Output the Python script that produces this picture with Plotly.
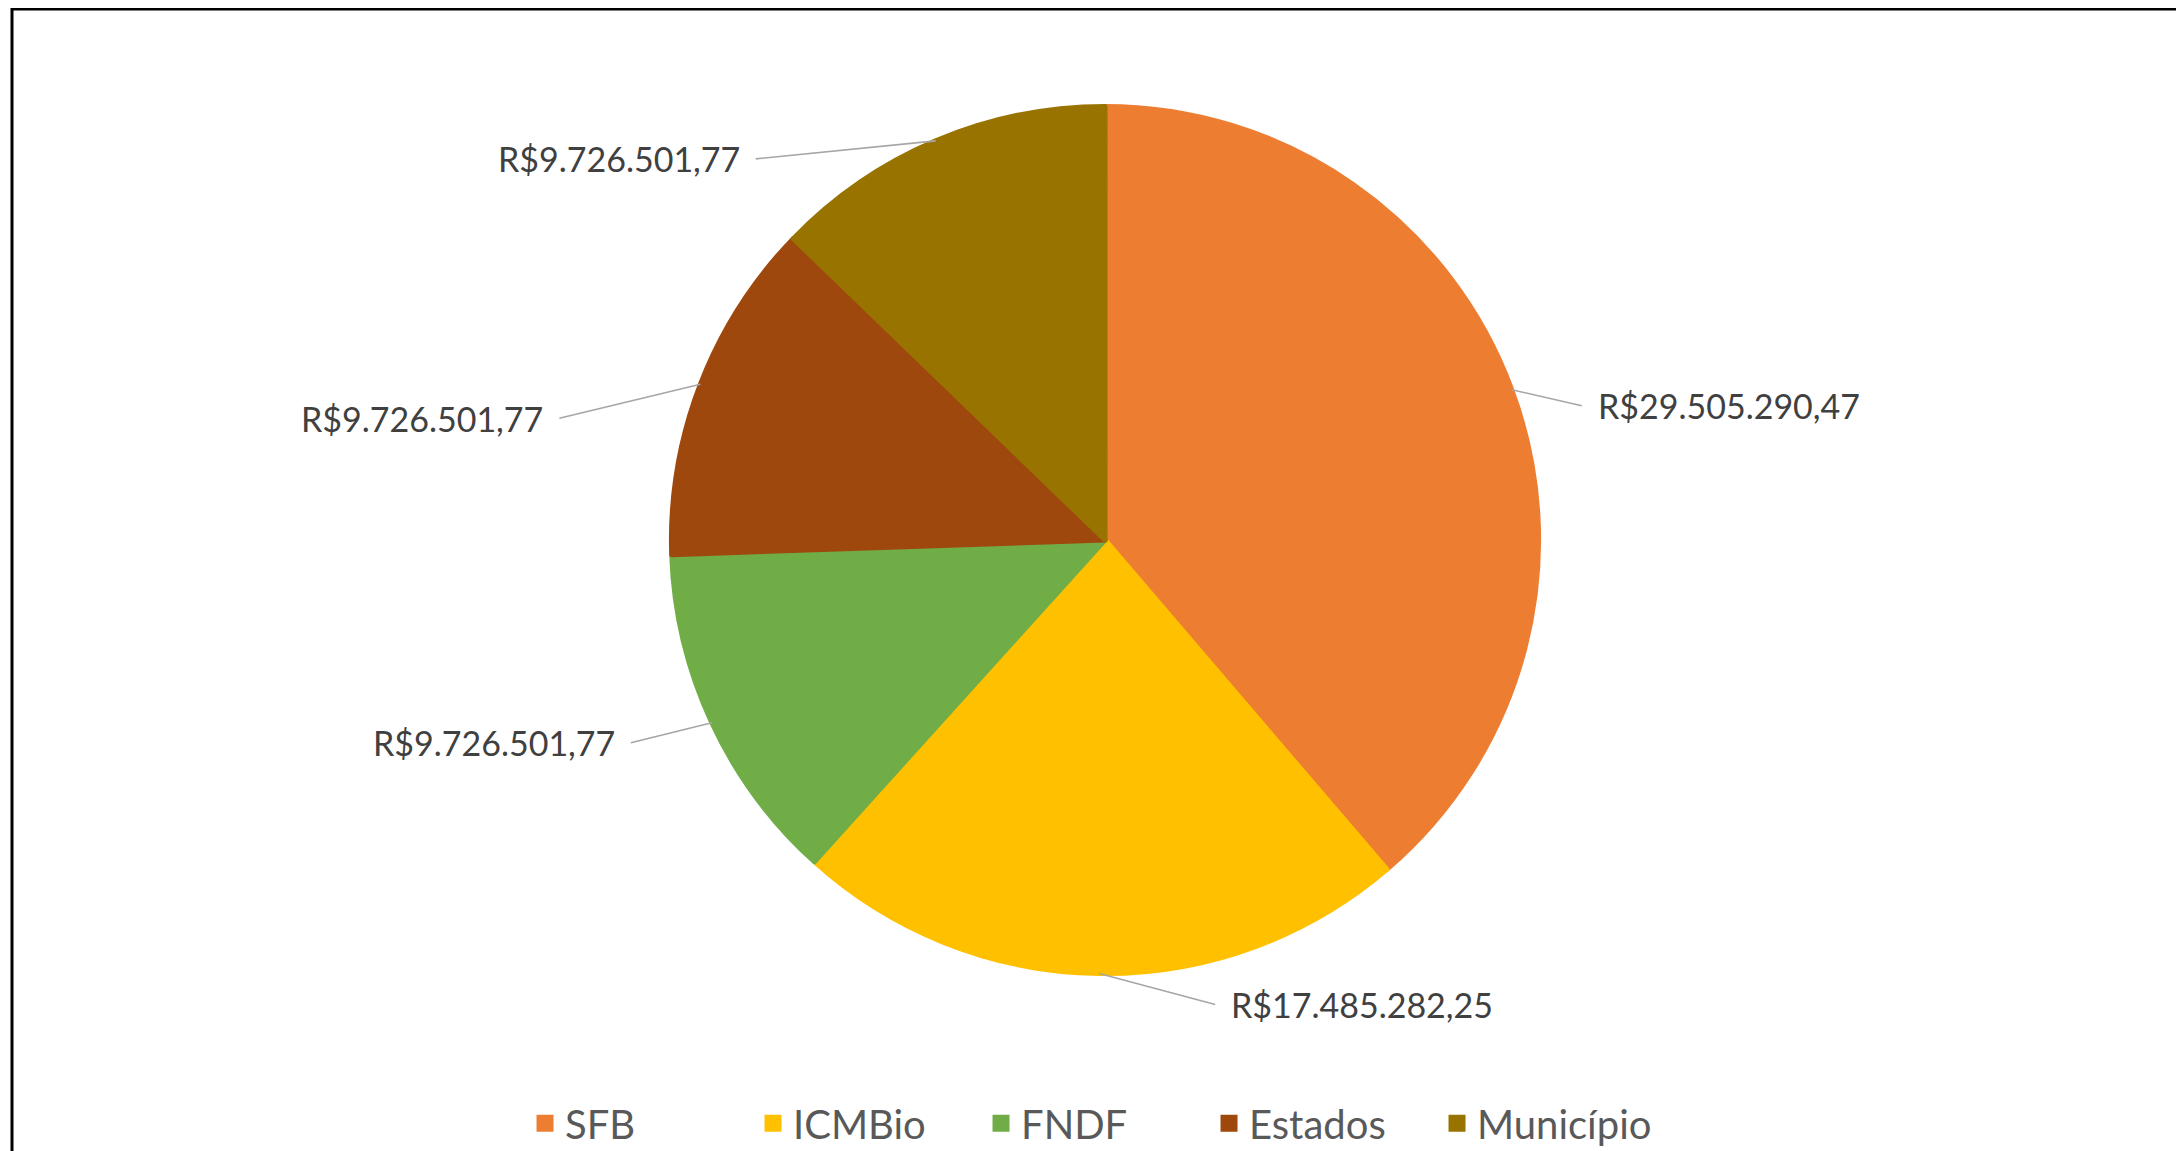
import math
import plotly.graph_objects as go

# data
categories = ["SFB", "ICMBio", "FNDF", "Estados", "Município"]
values = [29505290.47, 17485282.25, 9726501.77, 9726501.77, 9726501.77]
colors = ["#ED7D31", "#FFC000", "#70AD47", "#9E480E", "#997300"]

W, H = 2184, 1151
DOM_X = [0.2023, 0.8023]
DOM_Y = [0.1611, 0.9145]
FONT = "Lato"

# pixel offsets of each label from its slice edge (label placement, style only)
label_offsets = [(70, 16), (116, 31), (-81, 20), (-141, 34), (-180, 18)]


def brl(v):
    s = f"{v:,.2f}"  # 29,505,290.47
    s = s.replace(",", "X").replace(".", ",").replace("X", ".")
    return "R$" + s


fig = go.Figure()
fig.add_trace(go.Pie(
    labels=categories,
    values=values,
    # same-colour outline: invisible on the pie, enlarges the legend swatches
    marker=dict(colors=colors, line=dict(width=5, color=colors)),
    sort=False,
    direction="clockwise",
    rotation=0,
    textinfo="none",
    hoverinfo="label+value",
    domain=dict(x=DOM_X, y=DOM_Y),
))

# leader lines + value labels, anchored on the slice mid-angles
total = sum(values)
cx = (DOM_X[0] + DOM_X[1]) / 2
cy = (DOM_Y[0] + DOM_Y[1]) / 2
r_px = min((DOM_X[1] - DOM_X[0]) * W, (DOM_Y[1] - DOM_Y[0]) * H) / 2
start = 0.0
for v, (ox, oy) in zip(values, label_offsets):
    frac = v / total
    mid = (start + frac / 2) * 2 * math.pi
    start += frac
    hx = cx + r_px * math.sin(mid) / W
    hy = cy + r_px * math.cos(mid) / H
    fig.add_annotation(
        x=hx, y=hy, xref="paper", yref="paper",
        ax=ox, ay=oy, axref="pixel", ayref="pixel",
        text=brl(v),
        showarrow=True, arrowhead=0, arrowwidth=1.6, arrowcolor="#A6A6A6",
        xanchor="left" if ox > 0 else "right", yanchor="middle",
        borderpad=15,
        font=dict(family=FONT, size=34, color="#404040"),
    )

# chart area border (only top and left edges are visible in the crop)
fig.add_shape(type="rect", xref="paper", yref="paper",
              x0=4 / W, x1=1.05, y0=-0.05, y1=1 - 1 / H,
              line=dict(color="black", width=3))

fig.update_layout(
    width=W, height=H,
    margin=dict(l=0, r=0, t=0, b=0),
    paper_bgcolor="white",
    plot_bgcolor="white",
    font=dict(family=FONT, color="#595959"),
    showlegend=True,
    legend=dict(
        orientation="h",
        x=cx - 10 / W, xanchor="center",
        y=0.031, yanchor="middle",
        font=dict(family=FONT, size=40, color="#595959"),
        entrywidth=183,
        itemclick=False,
    ),
)

fig.write_html("out.html")
